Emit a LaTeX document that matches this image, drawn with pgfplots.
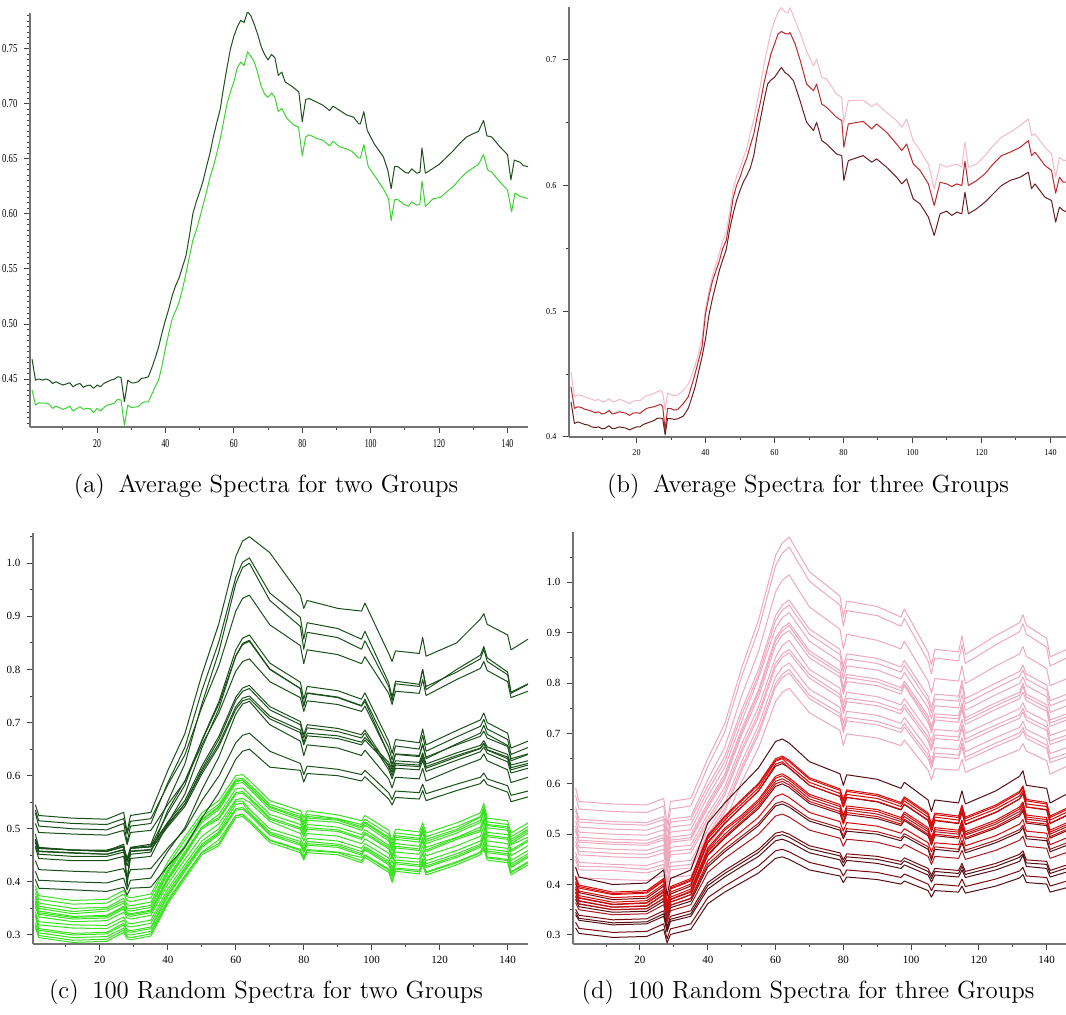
\documentclass[border=0pt]{standalone}
\usepackage{fontspec}
\usepackage{graphicx}
\usepackage{pgfplots}
\pgfplotsset{compat=1.18}
\usepackage{pgfplotstable}
\newfontfamily\tickfont{Liberation Serif}

\definecolor{gdark}{RGB}{30,80,30}
\definecolor{glight}{RGB}{60,210,50}
\definecolor{bpink}{RGB}{242,185,200}
\definecolor{bred}{RGB}{190,40,45}
\definecolor{bdark}{RGB}{105,30,35}
\definecolor{cdark}{RGB}{25,80,25}
\definecolor{clight}{RGB}{55,225,30}
\definecolor{dpink}{RGB}{238,168,188}
\definecolor{rbright}{RGB}{215,10,10}
\definecolor{rmid}{RGB}{170,25,30}
\definecolor{rdark}{RGB}{120,10,15}
\definecolor{rmaroon}{RGB}{85,15,20}

\pgfplotstableread{
x d1 d2 d3 d4 d5 d6 d7 d8 d9 d10 d11 d12
1 0.545 0.530 0.490 0.535 0.480 0.465 0.510 0.480 0.475 0.420 0.440 0.405
2 0.525 0.505 0.465 0.515 0.464 0.444 0.493 0.463 0.458 0.403 0.423 0.388
12 0.520 0.500 0.460 0.510 0.460 0.440 0.490 0.460 0.455 0.400 0.420 0.385
22 0.518 0.498 0.458 0.508 0.460 0.440 0.488 0.458 0.452 0.398 0.418 0.382
27 0.531 0.510 0.471 0.519 0.468 0.448 0.497 0.466 0.461 0.407 0.425 0.390
28 0.494 0.475 0.400 0.490 0.440 0.405 0.470 0.390 0.440 0.385 0.405 0.375
29 0.525 0.505 0.465 0.514 0.464 0.444 0.493 0.463 0.458 0.403 0.423 0.388
35 0.531 0.510 0.471 0.519 0.468 0.448 0.497 0.466 0.461 0.407 0.425 0.390
40 0.610 0.587 0.552 0.583 0.529 0.511 0.546 0.513 0.504 0.458 0.464 0.430
45 0.679 0.653 0.622 0.639 0.582 0.565 0.589 0.553 0.542 0.502 0.498 0.465
50 0.790 0.760 0.735 0.729 0.667 0.652 0.658 0.618 0.603 0.573 0.553 0.520
55 0.886 0.852 0.833 0.807 0.739 0.726 0.718 0.674 0.655 0.635 0.599 0.568
60 1.013 0.974 0.962 0.910 0.837 0.826 0.797 0.748 0.725 0.716 0.662 0.631
62 1.042 1.002 0.992 0.934 0.859 0.849 0.815 0.765 0.741 0.735 0.676 0.646
64 1.050 1.010 1.000 0.940 0.865 0.855 0.820 0.770 0.745 0.740 0.680 0.650
70 1.020 0.944 0.930 0.884 0.812 0.801 0.777 0.730 0.707 0.696 0.646 0.616
79 0.940 0.898 0.881 0.845 0.776 0.764 0.747 0.702 0.681 0.665 0.623 0.610
80 0.915 0.857 0.838 0.811 0.744 0.731 0.721 0.677 0.658 0.638 0.602 0.588
81 0.930 0.888 0.870 0.837 0.768 0.755 0.741 0.696 0.675 0.658 0.618 0.604
90 0.915 0.877 0.860 0.828 0.760 0.747 0.734 0.689 0.670 0.652 0.612 0.600
97 0.910 0.857 0.838 0.811 0.744 0.731 0.721 0.677 0.658 0.638 0.602 0.590
98 0.925 0.872 0.854 0.824 0.756 0.740 0.731 0.686 0.667 0.648 0.610 0.598
105 0.830 0.775 0.768 0.755 0.665 0.640 0.640 0.617 0.620 0.594 0.568 0.556
106 0.815 0.748 0.741 0.734 0.642 0.615 0.622 0.600 0.606 0.577 0.555 0.545
107 0.835 0.778 0.773 0.759 0.668 0.640 0.641 0.620 0.623 0.597 0.571 0.559
114 0.830 0.772 0.768 0.755 0.662 0.636 0.638 0.617 0.620 0.594 0.568 0.556
115 0.860 0.800 0.800 0.781 0.688 0.660 0.658 0.635 0.638 0.614 0.584 0.572
116 0.825 0.768 0.762 0.751 0.658 0.632 0.635 0.614 0.617 0.590 0.566 0.553
125 0.850 0.795 0.800 0.781 0.685 0.660 0.658 0.635 0.638 0.614 0.584 0.572
132 0.895 0.820 0.827 0.802 0.705 0.680 0.674 0.651 0.652 0.631 0.597 0.585
133 0.905 0.838 0.843 0.815 0.718 0.695 0.684 0.660 0.661 0.641 0.605 0.593
134 0.885 0.815 0.822 0.798 0.700 0.678 0.671 0.648 0.649 0.628 0.594 0.583
140 0.865 0.790 0.795 0.777 0.680 0.657 0.655 0.632 0.635 0.611 0.581 0.569
141 0.837 0.755 0.757 0.747 0.652 0.628 0.632 0.611 0.615 0.587 0.563 0.551
146 0.857 0.772 0.773 0.759 0.665 0.640 0.641 0.620 0.623 0.597 0.571 0.560
}\tabCdark

\pgfplotstableread{
x dc db da
1 0.468 0.474 0.480
2 0.452 0.457 0.463
12 0.448 0.454 0.460
22 0.448 0.452 0.457
27 0.456 0.460 0.466
28 0.430 0.438 0.445
29 0.452 0.457 0.463
35 0.456 0.460 0.466
40 0.535 0.507 0.509
45 0.590 0.547 0.547
50 0.665 0.612 0.608
55 0.735 0.668 0.660
60 0.825 0.742 0.730
62 0.847 0.759 0.746
64 0.853 0.764 0.750
70 0.800 0.724 0.712
79 0.764 0.696 0.686
80 0.732 0.671 0.663
81 0.756 0.690 0.680
90 0.748 0.683 0.675
97 0.732 0.671 0.663
98 0.744 0.680 0.672
105 0.653 0.611 0.625
106 0.630 0.594 0.611
107 0.656 0.614 0.628
114 0.650 0.611 0.625
115 0.676 0.629 0.643
116 0.646 0.608 0.622
125 0.673 0.629 0.643
132 0.693 0.645 0.657
133 0.706 0.654 0.666
134 0.688 0.642 0.654
140 0.668 0.626 0.640
141 0.640 0.605 0.620
146 0.653 0.614 0.628
}\tabCdarkB

\pgfplotstableread{
x g1 g2 g3 g4 g5 g6 g7 g8 g9 g10
1 0.393 0.379 0.369 0.364 0.358 0.353 0.338 0.335 0.323 0.318
2 0.374 0.360 0.350 0.345 0.339 0.334 0.319 0.309 0.304 0.299
12 0.365 0.350 0.340 0.335 0.330 0.325 0.313 0.300 0.295 0.290
22 0.367 0.352 0.345 0.337 0.332 0.327 0.312 0.302 0.297 0.292
27 0.384 0.369 0.360 0.354 0.349 0.343 0.328 0.319 0.313 0.309
28 0.372 0.357 0.347 0.342 0.337 0.332 0.317 0.307 0.302 0.297
29 0.370 0.355 0.345 0.340 0.335 0.330 0.315 0.305 0.300 0.295
35 0.377 0.362 0.352 0.347 0.342 0.337 0.322 0.312 0.307 0.302
40 0.438 0.424 0.416 0.409 0.403 0.396 0.381 0.373 0.366 0.363
45 0.485 0.468 0.465 0.457 0.450 0.442 0.427 0.420 0.412 0.410
50 0.530 0.518 0.512 0.503 0.500 0.486 0.471 0.465 0.456 0.455
55 0.553 0.542 0.536 0.527 0.518 0.509 0.494 0.488 0.479 0.472
60 0.600 0.590 0.585 0.575 0.565 0.555 0.546 0.535 0.525 0.525
62 0.602 0.592 0.587 0.577 0.567 0.557 0.548 0.537 0.527 0.527
64 0.591 0.580 0.575 0.565 0.556 0.550 0.531 0.526 0.516 0.516
70 0.553 0.542 0.536 0.527 0.518 0.514 0.494 0.488 0.479 0.478
79 0.534 0.523 0.516 0.508 0.499 0.491 0.476 0.469 0.461 0.459
80 0.520 0.508 0.497 0.493 0.485 0.477 0.462 0.455 0.447 0.445
81 0.534 0.523 0.516 0.508 0.499 0.491 0.476 0.469 0.461 0.459
90 0.526 0.518 0.512 0.503 0.495 0.486 0.471 0.465 0.456 0.455
97 0.515 0.504 0.497 0.489 0.480 0.472 0.457 0.450 0.446 0.440
98 0.525 0.513 0.507 0.498 0.490 0.481 0.466 0.460 0.451 0.450
105 0.497 0.484 0.477 0.469 0.462 0.454 0.439 0.432 0.424 0.422
106 0.478 0.465 0.458 0.450 0.443 0.435 0.420 0.413 0.410 0.403
107 0.499 0.487 0.480 0.472 0.464 0.456 0.441 0.434 0.426 0.424
114 0.494 0.482 0.475 0.467 0.459 0.452 0.437 0.429 0.422 0.419
115 0.511 0.499 0.492 0.484 0.476 0.468 0.453 0.441 0.438 0.436
116 0.492 0.480 0.472 0.465 0.457 0.449 0.434 0.427 0.419 0.417
125 0.511 0.499 0.492 0.484 0.480 0.468 0.453 0.446 0.438 0.436
132 0.530 0.522 0.512 0.503 0.495 0.486 0.471 0.465 0.456 0.455
133 0.548 0.537 0.531 0.522 0.513 0.504 0.489 0.483 0.474 0.466
134 0.520 0.508 0.502 0.493 0.485 0.477 0.462 0.455 0.447 0.445
140 0.515 0.504 0.497 0.489 0.480 0.472 0.457 0.450 0.442 0.440
141 0.492 0.480 0.472 0.470 0.457 0.449 0.434 0.427 0.419 0.417
146 0.511 0.499 0.492 0.484 0.476 0.468 0.453 0.446 0.438 0.436
}\tabClight

\pgfplotstableread{
x ga gb gc gd ge gf
1 0.386 0.373 0.361 0.344 0.338 0.314
2 0.367 0.354 0.342 0.325 0.312 0.295
12 0.358 0.344 0.333 0.319 0.303 0.286
22 0.360 0.349 0.335 0.318 0.305 0.288
27 0.377 0.364 0.352 0.334 0.322 0.305
28 0.365 0.351 0.340 0.323 0.310 0.293
29 0.363 0.349 0.338 0.321 0.308 0.291
35 0.370 0.356 0.345 0.328 0.315 0.298
40 0.431 0.420 0.406 0.387 0.376 0.359
45 0.478 0.469 0.453 0.433 0.423 0.406
50 0.523 0.516 0.503 0.477 0.468 0.451
55 0.546 0.540 0.521 0.500 0.491 0.468
60 0.593 0.589 0.568 0.552 0.538 0.521
62 0.595 0.591 0.570 0.552 0.540 0.523
64 0.584 0.579 0.559 0.537 0.529 0.512
70 0.546 0.540 0.521 0.500 0.491 0.474
79 0.527 0.520 0.502 0.482 0.472 0.455
80 0.513 0.501 0.488 0.468 0.458 0.441
81 0.527 0.520 0.502 0.482 0.472 0.455
90 0.519 0.516 0.498 0.477 0.468 0.451
97 0.508 0.501 0.483 0.463 0.453 0.436
98 0.518 0.511 0.493 0.472 0.463 0.446
105 0.490 0.481 0.465 0.445 0.435 0.418
106 0.471 0.462 0.446 0.426 0.416 0.399
107 0.492 0.484 0.467 0.447 0.437 0.420
114 0.487 0.479 0.462 0.443 0.432 0.415
115 0.504 0.496 0.479 0.459 0.444 0.432
116 0.485 0.476 0.460 0.440 0.430 0.413
125 0.504 0.496 0.483 0.459 0.449 0.432
132 0.523 0.516 0.498 0.477 0.468 0.451
133 0.541 0.535 0.516 0.495 0.486 0.462
134 0.513 0.506 0.488 0.468 0.458 0.441
140 0.508 0.501 0.483 0.463 0.453 0.436
141 0.485 0.476 0.460 0.440 0.430 0.413
146 0.504 0.496 0.479 0.459 0.449 0.432
}\tabClightB

\pgfplotstableread{
x p1 p2 p3 p4 p5 p6 p7 p8 p9 p10 p11 p12
1 0.592 0.577 0.554 0.547 0.526 0.516 0.506 0.495 0.479 0.464 0.449 0.433
2 0.565 0.550 0.530 0.524 0.504 0.494 0.484 0.474 0.459 0.444 0.429 0.414
12 0.560 0.545 0.525 0.520 0.500 0.490 0.480 0.470 0.455 0.440 0.428 0.410
22 0.558 0.543 0.523 0.518 0.498 0.488 0.478 0.468 0.453 0.438 0.423 0.408
27 0.571 0.556 0.535 0.529 0.509 0.499 0.489 0.478 0.463 0.448 0.433 0.418
28 0.518 0.503 0.486 0.484 0.465 0.456 0.446 0.437 0.423 0.408 0.393 0.380
29 0.565 0.550 0.530 0.524 0.504 0.494 0.484 0.474 0.459 0.444 0.429 0.414
35 0.571 0.556 0.535 0.529 0.509 0.499 0.489 0.478 0.463 0.448 0.433 0.418
40 0.650 0.634 0.608 0.596 0.575 0.563 0.552 0.540 0.524 0.508 0.492 0.475
45 0.719 0.703 0.672 0.654 0.632 0.619 0.608 0.593 0.577 0.560 0.544 0.524
50 0.830 0.813 0.775 0.747 0.724 0.709 0.697 0.679 0.662 0.644 0.626 0.604
55 0.926 0.907 0.863 0.827 0.810 0.787 0.773 0.753 0.734 0.716 0.698 0.672
60 1.053 1.033 0.981 0.934 0.909 0.890 0.875 0.851 0.832 0.812 0.792 0.763
62 1.078 1.058 1.004 0.955 0.930 0.910 0.895 0.875 0.851 0.831 0.811 0.782
64 1.090 1.070 1.015 0.965 0.940 0.920 0.905 0.885 0.860 0.840 0.820 0.790
70 1.021 1.002 0.951 0.907 0.883 0.864 0.850 0.827 0.810 0.788 0.769 0.741
79 0.973 0.955 0.907 0.867 0.843 0.825 0.812 0.790 0.771 0.752 0.733 0.706
80 0.931 0.913 0.868 0.832 0.808 0.791 0.778 0.757 0.739 0.720 0.702 0.676
81 0.963 0.944 0.897 0.858 0.834 0.817 0.803 0.782 0.763 0.744 0.725 0.699
90 0.952 0.934 0.885 0.849 0.826 0.808 0.795 0.773 0.755 0.736 0.717 0.691
97 0.931 0.913 0.868 0.832 0.808 0.791 0.778 0.757 0.739 0.720 0.702 0.676
98 0.947 0.928 0.883 0.845 0.821 0.804 0.795 0.769 0.751 0.732 0.713 0.687
105 0.862 0.844 0.804 0.774 0.751 0.735 0.722 0.704 0.686 0.668 0.650 0.627
106 0.836 0.818 0.780 0.751 0.729 0.714 0.701 0.683 0.666 0.642 0.630 0.608
107 0.867 0.850 0.809 0.778 0.755 0.739 0.727 0.708 0.690 0.672 0.654 0.630
114 0.862 0.844 0.804 0.774 0.751 0.735 0.722 0.704 0.686 0.668 0.650 0.627
115 0.894 0.876 0.834 0.806 0.777 0.761 0.748 0.728 0.710 0.692 0.674 0.649
116 0.857 0.839 0.799 0.769 0.746 0.731 0.718 0.700 0.682 0.664 0.646 0.623
125 0.894 0.876 0.834 0.800 0.777 0.761 0.748 0.728 0.710 0.692 0.674 0.649
132 0.920 0.902 0.858 0.823 0.799 0.782 0.769 0.749 0.730 0.712 0.694 0.668
133 0.936 0.918 0.873 0.836 0.812 0.800 0.782 0.761 0.743 0.724 0.705 0.680
134 0.915 0.897 0.853 0.818 0.795 0.778 0.765 0.745 0.726 0.708 0.690 0.665
140 0.889 0.871 0.829 0.796 0.773 0.757 0.744 0.724 0.706 0.688 0.670 0.646
141 0.852 0.834 0.795 0.765 0.742 0.727 0.714 0.696 0.678 0.660 0.642 0.619
146 0.867 0.850 0.809 0.778 0.755 0.739 0.727 0.708 0.690 0.672 0.654 0.635
}\tabDpink

\pgfplotstableread{
x pa pb pc pd
1 0.537 0.510 0.486 0.456
2 0.514 0.488 0.466 0.436
12 0.510 0.484 0.462 0.435
22 0.508 0.482 0.460 0.430
27 0.519 0.493 0.470 0.440
28 0.474 0.450 0.430 0.400
29 0.514 0.488 0.466 0.436
35 0.519 0.493 0.470 0.440
40 0.586 0.557 0.531 0.499
45 0.644 0.613 0.584 0.551
50 0.737 0.703 0.669 0.633
55 0.817 0.781 0.741 0.705
60 0.924 0.884 0.839 0.799
62 0.945 0.904 0.858 0.818
64 0.955 0.914 0.867 0.827
70 0.897 0.858 0.817 0.776
79 0.857 0.819 0.778 0.740
80 0.822 0.785 0.746 0.709
81 0.848 0.811 0.770 0.732
90 0.839 0.802 0.762 0.724
97 0.822 0.785 0.746 0.709
98 0.835 0.798 0.758 0.720
105 0.764 0.729 0.693 0.657
106 0.741 0.708 0.673 0.637
107 0.768 0.733 0.697 0.661
114 0.764 0.729 0.693 0.657
115 0.796 0.755 0.717 0.681
116 0.759 0.725 0.689 0.653
125 0.790 0.755 0.717 0.681
132 0.813 0.776 0.737 0.701
133 0.826 0.794 0.750 0.712
134 0.808 0.772 0.733 0.697
140 0.786 0.751 0.713 0.677
141 0.755 0.721 0.685 0.649
146 0.768 0.733 0.697 0.661
}\tabDpinkB

\pgfplotstableread{
x r1 r2 r3 r4 r5 r6 r7 r8 r9 r10 r11 r12 r13 r14
1 0.435 0.417 0.412 0.402 0.396 0.390 0.384 0.378 0.371 0.364 0.351 0.340 0.325 0.314
2 0.415 0.399 0.393 0.384 0.378 0.373 0.367 0.362 0.356 0.350 0.339 0.329 0.313 0.303
12 0.400 0.385 0.380 0.370 0.365 0.360 0.355 0.350 0.345 0.340 0.330 0.320 0.305 0.295
22 0.403 0.388 0.383 0.373 0.368 0.363 0.357 0.352 0.347 0.342 0.332 0.322 0.307 0.297
27 0.429 0.412 0.407 0.397 0.391 0.385 0.380 0.373 0.367 0.360 0.348 0.337 0.322 0.311
28 0.377 0.363 0.359 0.348 0.345 0.340 0.335 0.332 0.328 0.324 0.316 0.306 0.292 0.284
29 0.412 0.396 0.391 0.381 0.375 0.370 0.365 0.359 0.354 0.348 0.337 0.327 0.312 0.301
35 0.429 0.412 0.407 0.397 0.391 0.385 0.380 0.373 0.367 0.360 0.348 0.337 0.322 0.311
40 0.522 0.498 0.491 0.483 0.472 0.465 0.458 0.447 0.435 0.424 0.404 0.391 0.374 0.362
45 0.562 0.536 0.528 0.521 0.512 0.500 0.492 0.479 0.465 0.452 0.428 0.415 0.397 0.385
50 0.597 0.569 0.560 0.554 0.538 0.530 0.522 0.506 0.491 0.476 0.449 0.436 0.417 0.404
55 0.632 0.601 0.592 0.586 0.569 0.560 0.551 0.534 0.517 0.500 0.470 0.456 0.437 0.423
60 0.684 0.650 0.645 0.635 0.615 0.605 0.595 0.575 0.556 0.536 0.502 0.487 0.467 0.452
62 0.689 0.655 0.650 0.640 0.620 0.610 0.600 0.580 0.560 0.540 0.505 0.490 0.470 0.455
64 0.681 0.647 0.637 0.632 0.612 0.603 0.593 0.573 0.554 0.534 0.500 0.485 0.465 0.450
70 0.644 0.612 0.603 0.597 0.579 0.570 0.561 0.543 0.526 0.508 0.477 0.463 0.444 0.429
79 0.620 0.590 0.581 0.575 0.559 0.550 0.541 0.525 0.508 0.492 0.463 0.449 0.430 0.417
80 0.597 0.569 0.560 0.554 0.538 0.525 0.522 0.506 0.491 0.476 0.449 0.436 0.417 0.404
81 0.618 0.588 0.579 0.573 0.556 0.548 0.539 0.523 0.506 0.490 0.461 0.448 0.429 0.415
90 0.609 0.579 0.571 0.564 0.549 0.540 0.531 0.516 0.500 0.484 0.456 0.442 0.424 0.410
97 0.591 0.563 0.555 0.548 0.533 0.525 0.517 0.502 0.487 0.472 0.446 0.432 0.414 0.401
98 0.603 0.574 0.566 0.559 0.544 0.535 0.527 0.511 0.496 0.480 0.453 0.439 0.421 0.407
105 0.568 0.542 0.534 0.527 0.513 0.505 0.497 0.483 0.470 0.456 0.432 0.419 0.401 0.388
106 0.545 0.520 0.513 0.505 0.493 0.485 0.478 0.465 0.448 0.440 0.418 0.405 0.388 0.375
107 0.568 0.542 0.534 0.527 0.513 0.505 0.497 0.483 0.470 0.456 0.432 0.419 0.401 0.388
114 0.562 0.536 0.528 0.521 0.508 0.500 0.492 0.479 0.465 0.452 0.428 0.415 0.397 0.385
115 0.586 0.558 0.550 0.543 0.528 0.520 0.512 0.500 0.483 0.468 0.442 0.429 0.411 0.397
116 0.560 0.534 0.526 0.519 0.505 0.498 0.490 0.477 0.463 0.450 0.426 0.414 0.396 0.383
125 0.586 0.558 0.550 0.543 0.528 0.520 0.512 0.497 0.483 0.468 0.442 0.429 0.411 0.397
132 0.615 0.585 0.576 0.570 0.554 0.545 0.536 0.520 0.504 0.488 0.460 0.446 0.427 0.413
133 0.626 0.596 0.587 0.581 0.564 0.555 0.546 0.529 0.513 0.496 0.467 0.458 0.434 0.420
134 0.597 0.569 0.560 0.554 0.538 0.530 0.522 0.506 0.491 0.476 0.449 0.436 0.417 0.404
140 0.591 0.563 0.555 0.548 0.533 0.525 0.517 0.502 0.487 0.472 0.446 0.432 0.414 0.401
141 0.562 0.536 0.528 0.521 0.508 0.500 0.492 0.479 0.465 0.452 0.428 0.415 0.397 0.385
146 0.580 0.552 0.544 0.537 0.523 0.515 0.507 0.493 0.478 0.464 0.439 0.425 0.407 0.394
}\tabDred

\pgfplotstableread{
x ra rb rc rd re rf
1 0.414 0.406 0.392 0.385 0.376 0.345
2 0.396 0.387 0.374 0.368 0.361 0.333
12 0.382 0.374 0.361 0.355 0.350 0.324
22 0.385 0.377 0.364 0.358 0.352 0.326
27 0.409 0.401 0.387 0.380 0.372 0.342
28 0.360 0.353 0.341 0.335 0.333 0.310
29 0.393 0.385 0.371 0.365 0.359 0.331
35 0.409 0.401 0.387 0.380 0.372 0.342
40 0.495 0.485 0.468 0.460 0.440 0.398
45 0.533 0.522 0.508 0.495 0.470 0.422
50 0.566 0.554 0.534 0.525 0.496 0.443
55 0.598 0.586 0.565 0.555 0.522 0.464
60 0.647 0.639 0.611 0.600 0.561 0.496
62 0.652 0.644 0.616 0.605 0.565 0.499
64 0.644 0.631 0.608 0.598 0.559 0.494
70 0.609 0.597 0.575 0.565 0.531 0.471
79 0.587 0.575 0.555 0.545 0.513 0.457
80 0.566 0.554 0.534 0.520 0.496 0.443
81 0.585 0.573 0.552 0.543 0.511 0.455
90 0.576 0.565 0.545 0.535 0.505 0.450
97 0.560 0.549 0.529 0.520 0.492 0.440
98 0.571 0.560 0.540 0.530 0.501 0.447
105 0.539 0.528 0.509 0.500 0.475 0.426
106 0.517 0.507 0.489 0.480 0.453 0.412
107 0.539 0.528 0.509 0.500 0.475 0.426
114 0.533 0.522 0.504 0.495 0.470 0.422
115 0.555 0.544 0.524 0.515 0.488 0.436
116 0.531 0.520 0.501 0.493 0.468 0.420
125 0.555 0.544 0.524 0.515 0.488 0.436
132 0.582 0.570 0.550 0.540 0.509 0.454
133 0.593 0.581 0.560 0.550 0.518 0.461
134 0.566 0.554 0.534 0.525 0.496 0.443
140 0.560 0.549 0.529 0.520 0.492 0.440
141 0.533 0.522 0.504 0.495 0.470 0.422
146 0.549 0.538 0.519 0.510 0.483 0.433
}\tabDredB

\pgfplotsset{
  panel/.style={
    scale only axis,
    anchor=south west,
    axis x line=bottom, axis y line=left,
    axis line style={-, draw=black!55, line width=0.8pt},
    tick align=outside,
    major tick length=2.8pt, minor tick length=1.5pt,
    tick style={black!75, line width=0.5pt},
    xtick={20,40,60,80,100,120,140},
    minor xtick={10,30,50,70,90,110,130},
    /pgf/number format/assume math mode=true,
    every axis plot/.append style={line width=0.5pt, line join=round, mark=none},
  },
}

\begin{document}
\begin{tikzpicture}[x=1pt,y=1pt]

% ---------------- (a)
\begin{axis}[panel, at={(15pt,294pt)}, width=249pt, height=207pt,
  xmin=0.4, xmax=146, ymin=0.4064, ymax=0.7827,
  ytick={0.45,0.5,0.55,0.6,0.65,0.7,0.75},
  minor ytick={0.41,0.415,...,0.781},
  xticklabel={\scalebox{0.65}[1]{\tickfont\fontsize{6}{7}\selectfont\pgfmathprintnumber{\tick}}},
  yticklabel={\scalebox{0.72}[1]{\tickfont\fontsize{6}{7}\selectfont\pgfmathprintnumber[fixed,fixed zerofill,precision=2]{\tick}}},
]
\addplot[gdark] coordinates {(1,0.468) (2,0.449) (3,0.450) (4,0.449) (5,0.450) (6,0.449) (7,0.446) (8,0.4475) (9,0.446) (10,0.4445) (11,0.4455) (12,0.4466) (13,0.443) (14,0.445) (15,0.446) (16,0.4424) (17,0.444) (18,0.4445) (19,0.4415) (20,0.4445) (21,0.443) (22,0.446) (23,0.4475) (24,0.449) (25,0.4497) (26,0.452) (27,0.4515) (28,0.4294) (29,0.449) (30,0.4466) (31,0.4466) (32,0.4475) (33,0.4506) (34,0.451) (35,0.452) (36,0.460) (37,0.469) (38,0.479) (39,0.492) (40,0.5036) (41,0.514) (42,0.526) (43,0.535) (44,0.542) (45,0.552) (46,0.562) (47,0.580) (48,0.600) (49,0.611) (50,0.620) (51,0.630) (52,0.643) (53,0.655) (54,0.670) (55,0.683) (56,0.695) (57,0.715) (58,0.733) (59,0.750) (60,0.7615) (61,0.770) (62,0.776) (63,0.774) (64,0.784) (65,0.780) (66,0.772) (67,0.763) (68,0.752) (69,0.745) (70,0.740) (71,0.745) (72,0.742) (73,0.726) (74,0.729) (75,0.720) (77,0.716) (79,0.711) (80,0.684) (81,0.704) (82,0.705) (84,0.702) (86,0.699) (88,0.694) (89,0.698) (91,0.694) (93,0.690) (95,0.688) (96.5,0.682) (97,0.682) (98,0.693) (99,0.676) (101,0.664) (103.7,0.652) (105,0.640) (106,0.623) (107,0.643) (108,0.643) (110,0.638) (111,0.637) (112,0.641) (113.5,0.637) (114.4,0.638) (115,0.660) (116,0.637) (118,0.641) (120,0.645) (122,0.651) (124,0.657) (126,0.664) (128,0.670) (130,0.673) (131.5,0.675) (133,0.685) (134,0.671) (135.4,0.670) (137.8,0.661) (140,0.654) (141,0.631) (142,0.649) (143.7,0.647) (144.6,0.644) (146,0.643)};
\addplot[glight] coordinates {(1,0.440) (2,0.4263) (3,0.4285) (4,0.428) (5,0.428) (6,0.427) (7,0.4233) (8,0.4254) (9,0.424) (10,0.4224) (11,0.4235) (12,0.4254) (13,0.421) (14,0.423) (15,0.4248) (16,0.4224) (17,0.4233) (18,0.423) (19,0.4194) (20,0.4233) (21,0.421) (22,0.424) (23,0.4263) (24,0.427) (25,0.428) (26,0.4315) (27,0.431) (28,0.408) (29,0.4263) (30,0.424) (31,0.4245) (32,0.4248) (33,0.428) (34,0.4293) (35,0.4293) (36,0.436) (37,0.443) (38,0.449) (39,0.462) (40,0.478) (41,0.492) (42,0.505) (43,0.512) (44,0.520) (45,0.532) (46,0.546) (47,0.561) (48,0.576) (49,0.585) (50,0.596) (51,0.608) (52,0.620) (53,0.633) (54,0.643) (55,0.655) (56,0.668) (57,0.684) (58,0.700) (59,0.711) (60,0.720) (61,0.733) (62,0.738) (63,0.735) (64,0.7475) (65,0.743) (66,0.738) (67,0.728) (68,0.716) (69,0.709) (70,0.706) (71,0.710) (72,0.706) (73,0.693) (74,0.696) (75.5,0.687) (77.4,0.681) (78.9,0.679) (80,0.653) (81,0.670) (82,0.672) (84,0.669) (86,0.667) (88,0.662) (89,0.666) (91,0.661) (93,0.659) (94.5,0.657) (96.4,0.651) (97,0.651) (98,0.663) (99.3,0.643) (101.3,0.634) (103.7,0.623) (105.2,0.614) (106,0.594) (107,0.613) (108,0.613) (109.6,0.609) (111,0.607) (112,0.611) (113.5,0.608) (114.4,0.609) (115,0.630) (116,0.607) (118.3,0.614) (120.3,0.615) (122.2,0.620) (124.2,0.625) (126.1,0.632) (128.1,0.638) (130,0.642) (131.5,0.645) (133,0.654) (134.2,0.640) (135.4,0.638) (137.8,0.629) (140,0.622) (141.2,0.602) (142.2,0.619) (143.7,0.616) (146,0.614)};
\end{axis}

% ---------------- (b)
\begin{axis}[panel, at={(284.5pt,289pt)}, width=248.5pt, height=215pt,
  xmin=0.43, xmax=144.5, ymin=0.4, ymax=0.742,
  ytick={0.4,0.5,0.6,0.7},
  minor ytick={0.45,0.55,0.65},
  xticklabel={\scalebox{0.9}[1]{\tickfont\fontsize{4.5}{5}\selectfont\pgfmathprintnumber{\tick}}},
  yticklabel={\scalebox{0.9}[1]{\tickfont\fontsize{4.5}{5}\selectfont\pgfmathprintnumber[fixed,fixed zerofill,precision=1]{\tick}}},
]
\addplot[bpink] coordinates {(1,0.452) (2,0.432) (3,0.4335) (4,0.433) (5,0.432) (6,0.431) (7,0.430) (8,0.429) (9,0.430) (10,0.428) (11,0.4285) (12,0.4305) (13,0.428) (14,0.4285) (15,0.430) (16,0.429) (17,0.428) (18,0.4265) (19,0.4285) (20,0.429) (21,0.429) (22,0.431) (23,0.433) (24,0.4335) (25,0.4345) (26,0.436) (27,0.437) (27.6,0.435) (28.3,0.4214) (29,0.435) (30,0.4335) (31,0.433) (32,0.4335) (33.6,0.437) (35,0.442) (36,0.449) (37,0.457) (38,0.467) (39,0.479) (40,0.502) (41,0.516) (42,0.528) (43,0.537) (44,0.546) (45,0.556) (46,0.563) (47,0.579) (48,0.597) (49,0.607) (50,0.614) (51,0.622) (52,0.630) (53,0.642) (54,0.652) (55,0.667) (56,0.681) (57,0.697) (58,0.710) (59,0.722) (60,0.731) (61,0.7376) (62,0.7415) (63,0.738) (64,0.7376) (64.5,0.7415) (66,0.731) (67.4,0.7217) (69.3,0.707) (71.3,0.6952) (72.2,0.7005) (73.7,0.686) (75.1,0.6847) (78,0.6727) (79.5,0.670) (80.1,0.650) (81.4,0.6675) (85.7,0.668) (88.2,0.6627) (89.6,0.6653) (92.5,0.658) (95.4,0.6516) (96.9,0.6463) (98.3,0.653) (100.2,0.6357) (102.2,0.6278) (104.6,0.617) (106.3,0.5974) (108,0.617) (109.9,0.6146) (111.4,0.616) (112.8,0.617) (114.3,0.6146) (115.2,0.6344) (116.2,0.6146) (118.6,0.617) (121,0.6238) (123.4,0.6317) (125.8,0.6384) (128.3,0.6423) (131.2,0.6476) (133.6,0.653) (134.5,0.6397) (135.5,0.641) (138.4,0.6304) (140.3,0.6251) (141.5,0.6066) (142.6,0.6225) (143.7,0.620) (144.7,0.620)};
\addplot[bred] coordinates {(1,0.440) (2,0.4228) (3,0.424) (4,0.4235) (5,0.422) (6,0.4214) (7,0.4205) (8,0.4193) (9,0.420) (10,0.4183) (11,0.419) (12,0.421) (13,0.4183) (14,0.419) (15,0.420) (16,0.4195) (17,0.4188) (18,0.4172) (19,0.419) (20,0.4193) (21,0.4188) (22,0.421) (23,0.4228) (24,0.4235) (25,0.424) (26,0.425) (27,0.426) (27.6,0.424) (28.3,0.4056) (29,0.4228) (30,0.4225) (31,0.4214) (32,0.422) (33.6,0.4267) (35,0.432) (36,0.441) (37,0.4505) (38,0.461) (39,0.4717) (40,0.498) (41,0.512) (42,0.524) (43,0.532) (44,0.540) (45,0.550) (46,0.5563) (47,0.572) (48,0.590) (49,0.600) (50,0.6066) (51,0.615) (52,0.622) (53,0.632) (54,0.641) (55,0.655) (56,0.6675) (57,0.682) (58,0.694) (59,0.705) (60,0.7124) (61,0.7204) (62,0.7225) (63,0.721) (64,0.7204) (64.5,0.7217) (66,0.7124) (67.4,0.700) (69.3,0.6807) (71.3,0.6754) (72.2,0.6807) (73.7,0.6648) (75.1,0.6622) (78,0.6542) (79.5,0.6516) (80.1,0.6304) (81.4,0.649) (85.7,0.651) (88.2,0.645) (89.6,0.649) (92.5,0.6423) (95.4,0.633) (96.9,0.6278) (98.3,0.633) (100.2,0.6172) (102.2,0.612) (104.6,0.6013) (106.3,0.5841) (108,0.6026) (109.9,0.6013) (111.4,0.5992) (112.8,0.6013) (114.3,0.600) (115.2,0.6193) (116.2,0.600) (118.6,0.604) (121,0.6093) (123.4,0.6172) (125.8,0.6238) (128.3,0.6265) (131.2,0.6304) (133.6,0.6357) (134.5,0.6238) (135.5,0.6265) (138.4,0.6159) (140.3,0.612) (141.5,0.5939) (142.6,0.6066) (143.7,0.6026) (144.7,0.6026)};
\addplot[bdark] coordinates {(1,0.428) (2,0.4108) (3,0.412) (4,0.411) (5,0.410) (6,0.4095) (7,0.408) (8,0.4075) (9,0.408) (10,0.4065) (11,0.407) (12,0.409) (13,0.4065) (14,0.407) (15,0.408) (16,0.4075) (17,0.407) (18,0.4056) (19,0.407) (20,0.408) (21,0.408) (22,0.410) (23,0.411) (24,0.412) (25,0.413) (26,0.4148) (27,0.415) (27.6,0.4145) (28.3,0.4016) (29,0.4148) (30,0.4145) (31,0.414) (32,0.4145) (33.6,0.4167) (35,0.4228) (36,0.431) (37,0.440) (38,0.452) (39,0.4638) (40,0.478) (41,0.497) (42,0.510) (43,0.521) (44,0.5325) (45,0.541) (46,0.549) (47,0.565) (48,0.5775) (49,0.588) (50,0.596) (51,0.603) (52,0.608) (53,0.614) (54,0.624) (55,0.640) (56,0.654) (57,0.668) (58,0.6807) (59,0.684) (60,0.686) (61,0.690) (62,0.694) (63,0.690) (64,0.688) (65.5,0.6833) (67.4,0.6675) (69.3,0.6503) (71.3,0.6437) (72.2,0.6503) (73.7,0.6357) (75.1,0.633) (78,0.6251) (79.5,0.6238) (80.1,0.604) (81.4,0.6198) (85.7,0.6238) (88.2,0.6185) (89.6,0.6212) (92.5,0.6146) (95.4,0.6066) (96.9,0.6013) (98.3,0.6053) (100.2,0.5894) (102.2,0.5854) (104.6,0.5749) (106.3,0.5603) (108,0.5775) (109.9,0.5796) (111.4,0.5762) (112.8,0.5788) (114.3,0.5775) (115.2,0.5947) (116.2,0.5775) (118.6,0.5815) (121,0.5868) (123.4,0.5934) (125.8,0.600) (128.3,0.604) (131.2,0.6066) (133.6,0.6106) (134.5,0.5974) (135.5,0.6013) (138.4,0.5907) (140.3,0.5881) (141.5,0.5709) (142.6,0.5828) (143.7,0.5802) (144.7,0.5788)};
\end{axis}

% ---------------- (c)
\begin{axis}[panel, at={(16.5pt,35.5pt)}, width=247.5pt, height=205.5pt,
  xmin=0.3, xmax=146, ymin=0.283, ymax=1.057,
  ytick={0.3,0.4,0.5,0.6,0.7,0.8,0.9,1.0},
  minor ytick={0.35,0.45,0.55,0.65,0.75,0.85,0.95,1.05},
  xticklabel={\tickfont\fontsize{5.5}{6}\selectfont\pgfmathprintnumber{\tick}},
  yticklabel={\tickfont\fontsize{5.5}{6}\selectfont\pgfmathprintnumber[fixed,fixed zerofill,precision=1]{\tick}},
]
\pgfplotsinvokeforeach{1,...,10}{\addplot[clight] table[x index=0, y index=#1] {\tabClight};}
\pgfplotsinvokeforeach{1,...,6}{\addplot[clight] table[x index=0, y index=#1] {\tabClightB};}
\pgfplotsinvokeforeach{1,...,12}{\addplot[cdark] table[x index=0, y index=#1] {\tabCdark};}
\pgfplotsinvokeforeach{1,...,3}{\addplot[cdark] table[x index=0, y index=#1] {\tabCdarkB};}
\end{axis}

% ---------------- (d)
\begin{axis}[panel, at={(286.5pt,35.5pt)}, width=246.5pt, height=206pt,
  xmin=0.24, xmax=145.7, ymin=0.282, ymax=1.1,
  ytick={0.3,0.4,0.5,0.6,0.7,0.8,0.9,1.0},
  minor ytick={0.35,0.45,0.55,0.65,0.75,0.85,0.95,1.05},
  xticklabel={\tickfont\fontsize{5.5}{6}\selectfont\pgfmathprintnumber{\tick}},
  yticklabel={\tickfont\fontsize{5.5}{6}\selectfont\pgfmathprintnumber[fixed,fixed zerofill,precision=1]{\tick}},
]
\pgfplotsinvokeforeach{1,...,12}{\addplot[dpink] table[x index=0, y index=#1] {\tabDpink};}
\pgfplotsinvokeforeach{1,...,4}{\addplot[dpink] table[x index=0, y index=#1] {\tabDpinkB};}
\addplot[rmaroon] table[x index=0, y index=1] {\tabDred};
\addplot[rbright] table[x index=0, y index=2] {\tabDred};
\addplot[rbright] table[x index=0, y index=3] {\tabDred};
\addplot[rdark] table[x index=0, y index=4] {\tabDred};
\addplot[rbright] table[x index=0, y index=5] {\tabDred};
\addplot[rmid] table[x index=0, y index=6] {\tabDred};
\addplot[rdark] table[x index=0, y index=7] {\tabDred};
\addplot[rbright] table[x index=0, y index=8] {\tabDred};
\addplot[rmaroon] table[x index=0, y index=9] {\tabDred};
\addplot[rmid] table[x index=0, y index=10] {\tabDred};
\addplot[rdark] table[x index=0, y index=11] {\tabDred};
\addplot[rmaroon] table[x index=0, y index=12] {\tabDred};
\addplot[rdark] table[x index=0, y index=13] {\tabDred};
\addplot[rmaroon] table[x index=0, y index=14] {\tabDred};
\addplot[rbright] table[x index=0, y index=1] {\tabDredB};
\addplot[rbright] table[x index=0, y index=2] {\tabDredB};
\addplot[rbright] table[x index=0, y index=3] {\tabDredB};
\addplot[rbright] table[x index=0, y index=4] {\tabDredB};
\addplot[rmid] table[x index=0, y index=5] {\tabDredB};
\addplot[rmaroon] table[x index=0, y index=6] {\tabDredB};
\end{axis}

% captions
\begin{scope}[every node/.style={font=\fontsize{12.4}{15}\selectfont, inner sep=0pt, anchor=base}]
\node at (133pt,261pt) {(a)\hspace{0.55em}Average Spectra for two Groups};
\node at (404pt,261pt) {(b)\hspace{0.55em}Average Spectra for three Groups};
\node at (133pt,8pt) {(c)\hspace{0.55em}100 Random Spectra for two Groups};
\node at (404pt,8pt) {(d)\hspace{0.55em}100 Random Spectra for three Groups};
\end{scope}

\pgfresetboundingbox
\useasboundingbox (0,0) rectangle (533pt,507.5pt);
\end{tikzpicture}
\end{document}
